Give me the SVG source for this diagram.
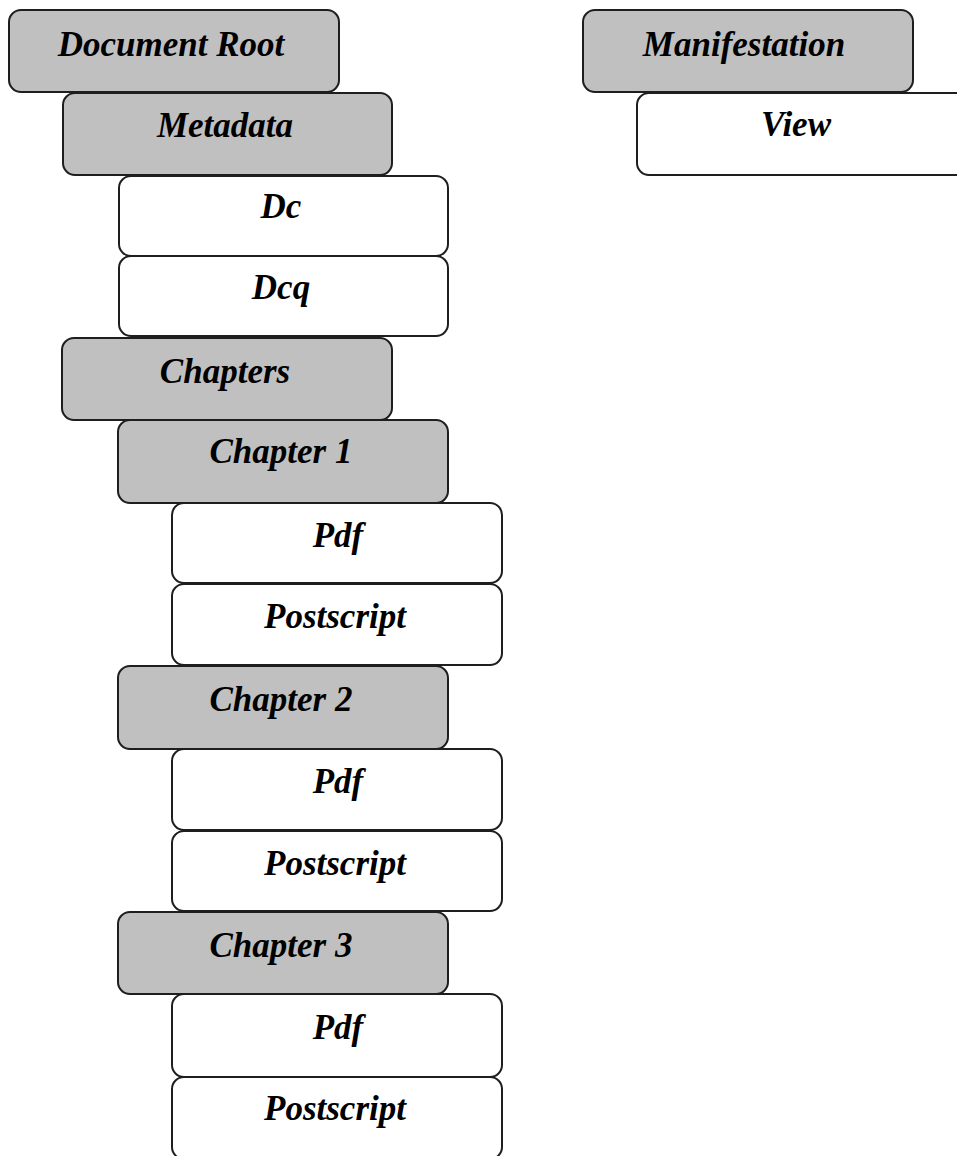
<svg xmlns="http://www.w3.org/2000/svg" width="957" height="1156" viewBox="0 0 957 1156">
  <style>
    .box { stroke: #1e1e1e; stroke-width: 2; }
    .group { fill: #c0c0c0; }
    .leaf { fill: #ffffff; }
    .label { font-family: "Liberation Serif", "Times New Roman", serif; font-weight: bold; font-style: italic; font-size: 35px; fill: #000000; text-anchor: middle; }
  </style>
  <rect width="957" height="1156" fill="#ffffff"/>

  <!-- document tree -->
  <g id="document-root"><rect class="box group" x="9" y="10" width="330" height="82" rx="12"/><text class="label" x="171" y="56">Document Root</text></g>
  <g id="metadata"><rect class="box group" x="63" y="93" width="329" height="82" rx="12"/><text class="label" x="225" y="137">Metadata</text></g>
  <g id="dc"><rect class="box leaf" x="119" y="176" width="329" height="80" rx="12"/><text class="label" x="281" y="218">Dc</text></g>
  <g id="dcq"><rect class="box leaf" x="119" y="256" width="329" height="80" rx="12"/><text class="label" x="281" y="299">Dcq</text></g>
  <g id="chapters"><rect class="box group" x="62" y="338" width="330" height="82" rx="12"/><text class="label" x="225" y="383">Chapters</text></g>

  <g id="chapter-1"><rect class="box group" x="118" y="420" width="330" height="83" rx="12"/><text class="label" x="281" y="463">Chapter 1</text></g>
  <g id="chapter-1-pdf"><rect class="box leaf" x="172" y="503" width="330" height="80" rx="12"/><text class="label" x="338" y="547">Pdf</text></g>
  <g id="chapter-1-postscript"><rect class="box leaf" x="172" y="584" width="330" height="81" rx="12"/><text class="label" x="335" y="628">Postscript</text></g>

  <g id="chapter-2"><rect class="box group" x="118" y="666" width="330" height="83" rx="12"/><text class="label" x="281" y="711">Chapter 2</text></g>
  <g id="chapter-2-pdf"><rect class="box leaf" x="172" y="749" width="330" height="81" rx="12"/><text class="label" x="338" y="793">Pdf</text></g>
  <g id="chapter-2-postscript"><rect class="box leaf" x="172" y="831" width="330" height="80" rx="12"/><text class="label" x="335" y="875">Postscript</text></g>

  <g id="chapter-3"><rect class="box group" x="118" y="912" width="330" height="82" rx="12"/><text class="label" x="281" y="957">Chapter 3</text></g>
  <g id="chapter-3-pdf"><rect class="box leaf" x="172" y="994" width="330" height="83" rx="12"/><text class="label" x="338" y="1039">Pdf</text></g>
  <g id="chapter-3-postscript"><rect class="box leaf" x="172" y="1077" width="330" height="82" rx="12"/><text class="label" x="335" y="1120">Postscript</text></g>

  <!-- manifestation tree -->
  <g id="manifestation"><rect class="box group" x="583" y="10" width="330" height="82" rx="12"/><text class="label" x="744" y="56">Manifestation</text></g>
  <g id="view"><rect class="box leaf" x="637" y="93" width="340" height="82" rx="12"/><text class="label" x="796" y="136">View</text></g>

  <!-- no connectors: hierarchy is shown by indentation -->
  <g id="connectors"/>
</svg>
